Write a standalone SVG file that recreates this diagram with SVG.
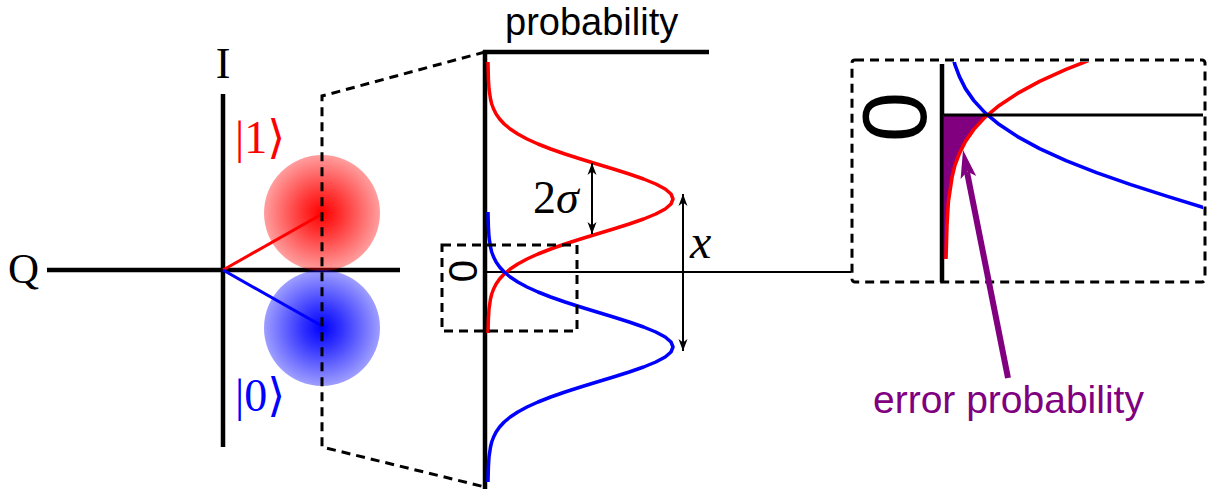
<svg xmlns="http://www.w3.org/2000/svg" xmlns:xlink="http://www.w3.org/1999/xlink" width="1207" height="489" viewBox="0 0 1207 489">
<style>
.ax{stroke:#000;stroke-width:4.5;fill:none}
.thin{stroke:#000;stroke-width:2.2;fill:none}
.dash{stroke:#000;stroke-width:3;fill:none;stroke-dasharray:9,6}
.red{stroke:#ff0000;stroke-width:3.5;fill:none;stroke-linejoin:round}
.blue{stroke:#0000ff;stroke-width:3.5;fill:none;stroke-linejoin:round}
.serif{font-family:"Liberation Serif","DejaVu Serif",serif}
.sans{font-family:"Liberation Sans",Arial,sans-serif}
.arr{stroke:#000;stroke-width:2;fill:none}
</style>
<defs>
<radialGradient id="gr">
<stop offset="0" stop-color="#ff0000" stop-opacity="1"/>
<stop offset="0.35" stop-color="#ff0000" stop-opacity="0.8"/>
<stop offset="1" stop-color="#ff0000" stop-opacity="0.38"/>
</radialGradient>
<radialGradient id="gb">
<stop offset="0" stop-color="#0000ff" stop-opacity="1"/>
<stop offset="0.35" stop-color="#0000ff" stop-opacity="0.8"/>
<stop offset="1" stop-color="#0000ff" stop-opacity="0.38"/>
</radialGradient>
<marker id="ah" viewBox="-12 -6 14 12" refX="0" refY="0" markerWidth="14" markerHeight="12" markerUnits="userSpaceOnUse" orient="auto-start-reverse">
<path d="M0,0 L-12,-4.5 L-8.5,0 L-12,4.5 Z" fill="#000"/>
</marker>
<polyline id="redc" points="488,62 488.4,79 489,89 490.5,99 491.7,104 493.6,109 496.1,114 499.6,119 504.2,124 510.2,129 517.8,134 527,139 538,144 550.7,149 565,154 580.6,159 596.9,164 613.4,169 629.2,174 643.6,179 655.8,184 665.2,189 671,194 673,199 671,204 665.2,209 655.8,214 643.6,219 629.2,224 613.4,229 596.9,234 580.6,239 565,244 550.7,249 538,254 527,259 517.8,264 510.2,269 504.2,274 499.6,279 496.1,284 493.6,289 491.7,294 490.5,299 489,309 488.4,319 488,333"/>
<polyline id="bluec" points="488,212 488.4,227 489,237 490.5,247 491.7,252 493.6,257 496.1,262 499.6,267 504.2,272 510.2,277 517.8,282 527,287 538,292 550.7,297 565,302 580.6,307 596.9,312 613.4,317 629.2,322 643.6,327 655.8,332 665.2,337 671,342 673,347 671,352 665.2,357 655.8,362 643.6,367 629.2,372 613.4,377 596.9,382 580.6,387 565,392 550.7,397 538,402 527,407 517.8,412 510.2,417 504.2,422 499.6,427 496.1,432 493.6,437 491.7,442 490.5,447 489,457 488.4,467 488,482"/>
<clipPath id="insetclip"><rect x="854" y="62" width="349" height="218"/></clipPath>
</defs>

<g id="iq-plane">
<line class="ax" x1="47" y1="270" x2="400" y2="270"/>
<line class="ax" x1="223" y1="94" x2="223" y2="447"/>
<text class="serif" x="8" y="283" font-size="43">Q</text>
<text class="serif" x="223" y="78" font-size="44" text-anchor="middle">I</text>
</g>

<g id="state1">
<circle cx="322" cy="213" r="58" fill="url(#gr)"/>
<line x1="223" y1="270" x2="322" y2="214" stroke="#ff0000" stroke-width="3"/>
<text class="serif" x="235" y="153" font-size="46" fill="#ff0000">|1⟩</text>
</g>

<g id="state0">
<circle cx="322" cy="328" r="58" fill="url(#gb)"/>
<line x1="223" y1="270" x2="322" y2="326" stroke="#0000ff" stroke-width="3"/>
<text class="serif" x="235" y="411" font-size="46" fill="#0000ff">|0⟩</text>
</g>

<g id="connectors">
<polyline class="dash" points="485,52 322,96 322,447 485,487"/>
<line class="thin" x1="486" y1="272" x2="851" y2="272"/>
</g>

<g id="histogram">
<line class="ax" x1="485" y1="50" x2="485" y2="489"/>
<line class="ax" x1="483" y1="52" x2="709" y2="52"/>
<text class="sans" x="505" y="35" font-size="38">probability</text>
<use href="#redc" class="red"/>
<use href="#bluec" class="blue"/>
<line class="arr" x1="592" y1="163" x2="592" y2="234" marker-start="url(#ah)" marker-end="url(#ah)"/>
<text class="serif" x="533" y="213" font-size="46">2<tspan font-style="italic">σ</tspan></text>
<line class="arr" x1="683" y1="194" x2="683" y2="351" marker-start="url(#ah)" marker-end="url(#ah)"/>
<text class="serif" x="690" y="258" font-size="48" font-style="italic">x</text>
</g>

<g id="zoom-box">
<rect class="dash" x="442" y="245" width="135" height="86"/>
<text class="sans" font-size="40" text-anchor="middle" transform="translate(463,271) rotate(-90)" y="14">0</text>
</g>

<g id="inset">
<rect class="dash" x="852" y="60" width="353" height="222" rx="3"/>
<text class="sans" font-size="90" text-anchor="middle" transform="translate(894,117) rotate(-90)" y="32">0</text>
<line class="ax" x1="942" y1="64" x2="942" y2="282"/>
<g clip-path="url(#insetclip)">
<g transform="translate(946,115) scale(2.4) translate(-488,-273)">
<path d="M487,273 L504.9,273 L499.6,279 L496.1,284 L493.6,289 L491.7,294 L490.5,299 L489,309 L488.4,319 L488,333 L487,333 Z" fill="#800080"/>
<use href="#redc" class="red" style="stroke-width:1.5"/>
<use href="#bluec" class="blue" style="stroke-width:1.5"/>
</g>
</g>
<line stroke="#000" stroke-width="3" x1="944" y1="115" x2="1203" y2="115"/>
</g>

<g id="error-label">
<line x1="1008" y1="378" x2="967" y2="172" stroke="#800080" stroke-width="6"/>
<polygon points="963,150 976.2,175.9 967.3,171.6 960.6,179.1" fill="#800080"/>
<text class="sans" x="873" y="413" font-size="39" fill="#800080">error probability</text>
</g>
</svg>
